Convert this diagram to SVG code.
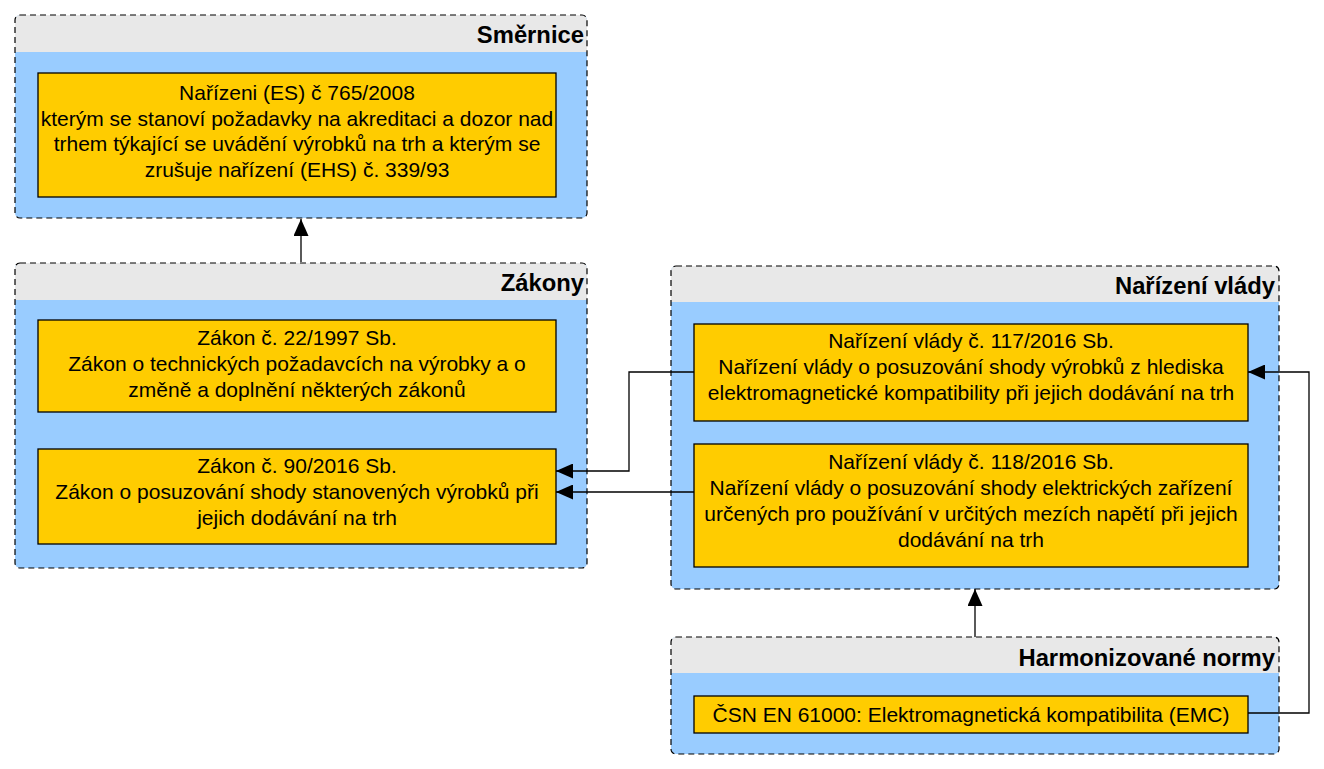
<svg xmlns="http://www.w3.org/2000/svg" width="1324" height="769" viewBox="0 0 1324 769">
<style>
.bg{fill:#99CCFF}
.hd{fill:#E8E8E8}
.ct{fill:none;stroke:#000;stroke-width:1.2;stroke-dasharray:6 4}
.bx{fill:#FFCC00;stroke:#000;stroke-width:1.3}
.tt{font-family:"Liberation Sans",Arial,sans-serif;font-weight:bold;font-size:23.8px;text-anchor:end;fill:#000}
.tx{font-family:"Liberation Sans",Arial,sans-serif;font-size:21px;text-anchor:middle;fill:#000}
.cn{fill:none;stroke:#000;stroke-width:1.3}
</style>
<defs>
<marker id="ah" viewBox="0 0 17 15" refX="17" refY="7.5" markerWidth="17" markerHeight="15" markerUnits="userSpaceOnUse" orient="auto">
<path d="M0,0 L17,7.5 L0,15 Z" fill="#000"/>
</marker>
<clipPath id="c1"><rect x="15" y="15" width="572" height="203" rx="5"/></clipPath>
<clipPath id="c2"><rect x="15" y="263" width="572" height="305" rx="5"/></clipPath>
<clipPath id="c3"><rect x="671" y="266" width="608" height="323" rx="5"/></clipPath>
<clipPath id="c4"><rect x="671" y="637" width="608" height="117" rx="5"/></clipPath>
</defs>

<g id="smernice">
<g clip-path="url(#c1)"><rect class="bg" x="15" y="15" width="572" height="203"/><rect class="hd" x="15" y="15" width="572" height="37"/></g>
<rect class="ct" x="15" y="15" width="572" height="203" rx="5"/>
<text class="tt" x="584" y="43">Směrnice</text>
</g>
<g id="nariz765">
<rect class="bx" x="38" y="73" width="518" height="124"/>
<text class="tx" x="297" y="100">Nařízeni (ES) č 765/2008</text>
<text class="tx" x="297" y="125.5">kterým se stanoví požadavky na akreditaci a dozor nad</text>
<text class="tx" x="297" y="151">trhem týkající se uvádění výrobků na trh a kterým se</text>
<text class="tx" x="297" y="176.5">zrušuje nařízení (EHS) č. 339/93</text>
</g>

<g id="zakony">
<g clip-path="url(#c2)"><rect class="bg" x="15" y="263" width="572" height="305"/><rect class="hd" x="15" y="263" width="572" height="37"/></g>
<rect class="ct" x="15" y="263" width="572" height="305" rx="5"/>
<text class="tt" x="584" y="291">Zákony</text>
</g>
<g id="zakon22">
<rect class="bx" x="38" y="320" width="518" height="92"/>
<text class="tx" x="297" y="345">Zákon č. 22/1997 Sb.</text>
<text class="tx" x="297" y="371">Zákon o technických požadavcích na výrobky a o</text>
<text class="tx" x="297" y="397">změně a doplnění některých zákonů</text>
</g>
<g id="zakon90">
<rect class="bx" x="38" y="449" width="518" height="95"/>
<text class="tx" x="297" y="473">Zákon č. 90/2016 Sb.</text>
<text class="tx" x="297" y="499">Zákon o posuzování shody stanovených výrobků při</text>
<text class="tx" x="297" y="525">jejich dodávání na trh</text>
</g>

<g id="narizeni-vlady">
<g clip-path="url(#c3)"><rect class="bg" x="671" y="266" width="608" height="323"/><rect class="hd" x="671" y="266" width="608" height="36"/></g>
<rect class="ct" x="671" y="266" width="608" height="323" rx="5"/>
<text class="tt" x="1275" y="294">Nařízení vlády</text>
</g>
<g id="nv117">
<rect class="bx" x="694" y="324" width="554" height="97"/>
<text class="tx" x="971" y="348">Nařízení vlády č. 117/2016 Sb.</text>
<text class="tx" x="971" y="374">Nařízení vlády o posuzování shody výrobků z hlediska</text>
<text class="tx" x="971" y="400">elektromagnetické kompatibility při jejich dodávání na trh</text>
</g>
<g id="nv118">
<rect class="bx" x="694" y="444" width="554" height="123"/>
<text class="tx" x="971" y="469">Nařízení vlády č. 118/2016 Sb.</text>
<text class="tx" x="971" y="495">Nařízení vlády o posuzování shody elektrických zařízení</text>
<text class="tx" x="971" y="521">určených pro používání v určitých mezích napětí při jejich</text>
<text class="tx" x="971" y="547">dodávání na trh</text>
</g>

<g id="harmonizovane">
<g clip-path="url(#c4)"><rect class="bg" x="671" y="637" width="608" height="117"/><rect class="hd" x="671" y="637" width="608" height="36"/></g>
<rect class="ct" x="671" y="637" width="608" height="117" rx="5"/>
<text class="tt" x="1275" y="666">Harmonizované normy</text>
</g>
<g id="csn61000">
<rect class="bx" x="694" y="696" width="554" height="37"/>
<text class="tx" x="971" y="722">ČSN EN 61000: Elektromagnetická kompatibilita (EMC)</text>
</g>

<g id="connectors">
<path class="cn" d="M301,262 L301,219" marker-end="url(#ah)"/>
<path class="cn" d="M694,372 L629,372 L629,471 L556,471" marker-end="url(#ah)"/>
<path class="cn" d="M694,492 L556,492" marker-end="url(#ah)"/>
<path class="cn" d="M975,637 L975,589" marker-end="url(#ah)"/>
<path class="cn" d="M1248,713 L1309,713 L1309,372 L1248,372" marker-end="url(#ah)"/>
</g>
</svg>
